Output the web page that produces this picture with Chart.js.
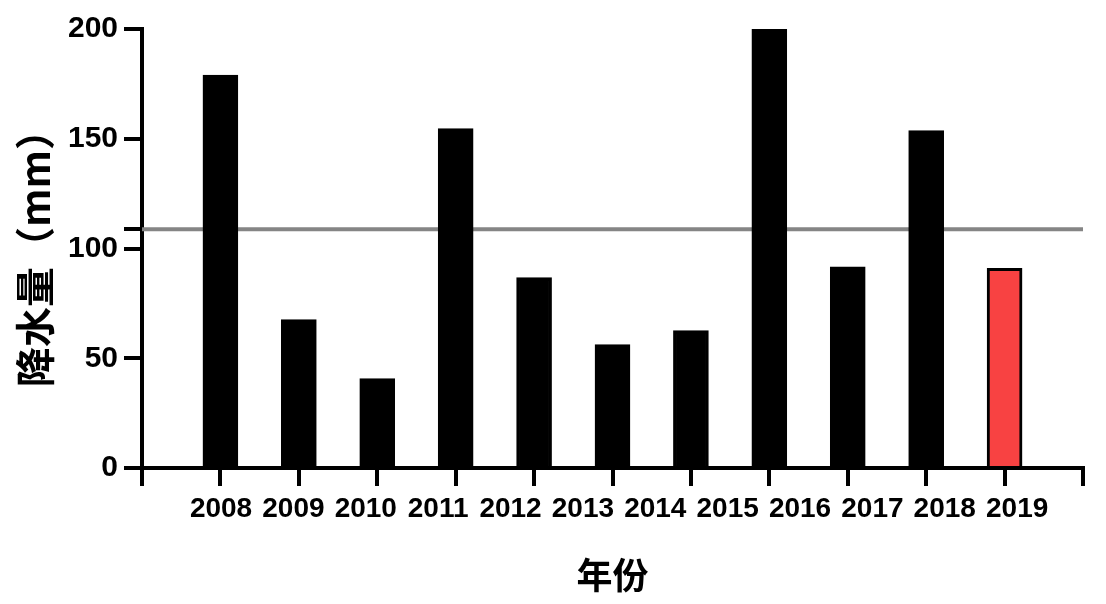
<!DOCTYPE html>
<html>
<head>
<meta charset="utf-8">
<script src="https://cdn.jsdelivr.net/npm/chart.js@4.4.1/dist/chart.umd.min.js"></script>
<style>
    html, body { margin: 0; padding: 0; background: #fff; }
    #wrap { width: 1106px; height: 604px; }
</style>
</head>
<body>
<div id="wrap"><canvas id="rainChart" width="1106" height="604"></canvas></div>
<script>
// Rainfall per year, bars sit on ticks 1..11 of the x axis
const yearLabels = ['2008', '2009', '2010', '2011', '2012', '2013', '2014', '2015', '2016', '2017', '2018', '2019'];
const barPositions = [1, 2, 3, 4, 5, 6, 7, 8, 9, 10, 11];
const rainfall = [179, 67.6, 40.7, 154.6, 86.7, 56.2, 62.6, 200, 91.7, 153.7, 91];
const meanRainfall = 108.8;
const yTickValues = [0, 50, 100, 150, 200];

const TICK_FONT = 'Liberation Sans, Arial, sans-serif';
const CJK_FONT = '"Noto Sans CJK SC", sans-serif';
const AXIS_W = 4;

const barColors = rainfall.map((v, i) => i === rainfall.length - 1 ? '#F84242' : '#000000');

const ctx = document.getElementById('rainChart');

new Chart(ctx, {
    type: 'bar',
    data: {
        datasets: [
            {
                type: 'bar',
                label: '降水量',
                data: barPositions.map((x, i) => ({ x: x, y: rainfall[i] })),
                backgroundColor: barColors,
                borderColor: '#000000',
                borderWidth: 3,
                barThickness: 35,
                grouped: false,
                xAxisID: 'x',
                order: 1
            },
            {
                type: 'line',
                label: '平均',
                data: [{ x: 0, y: meanRainfall }, { x: 12, y: meanRainfall }],
                borderColor: '#858585',
                borderWidth: 4,
                pointRadius: 0,
                fill: false,
                xAxisID: 'x',
                order: 2
            }
        ]
    },
    options: {
        responsive: false,
        animation: false,
        layout: {
            padding: { top: 29, right: 23, bottom: 0, left: 0 }
        },
        plugins: {
            legend: { display: false },
            tooltip: { enabled: false }
        },
        scales: {
            x: {
                type: 'linear',
                position: 'bottom',
                weight: 0,
                min: 0,
                max: 12,
                offset: false,
                afterBuildTicks: function (scale) {
                    scale.ticks = [0, 1, 2, 3, 4, 5, 6, 7, 8, 9, 10, 11, 12].map(v => ({ value: v }));
                },
                afterFit: function (scale) {
                    scale.height = 20;
                },
                ticks: { display: false, autoSkip: false },
                grid: {
                    offset: false,
                    drawOnChartArea: false,
                    drawTicks: true,
                    lineWidth: AXIS_W,
                    color: '#000000',
                    tickLength: 18,
                    tickWidth: AXIS_W,
                    tickColor: '#000000'
                },
                border: { display: true, color: '#000000', width: AXIS_W }
            },
            x2: {
                type: 'linear',
                position: 'bottom',
                weight: 1,
                min: -1.092,
                max: 11.91,
                offset: false,
                afterBuildTicks: function (scale) {
                    scale.ticks = yearLabels.map((y, i) => ({ value: i }));
                },
                afterFit: function (scale) {
                    scale.height = 116;
                },
                ticks: {
                    autoSkip: false,
                    maxRotation: 0,
                    padding: 4,
                    color: '#000000',
                    font: { family: TICK_FONT, size: 28, weight: 'bold' },
                    callback: function (value) {
                        return yearLabels[value];
                    }
                },
                grid: { display: false, drawTicks: false },
                border: { display: false },
                title: {
                    display: true,
                    text: '年份',
                    color: '#000000',
                    padding: { top: 0, bottom: 7 },
                    font: { family: CJK_FONT, size: 36, weight: 'bold' }
                }
            },
            y: {
                type: 'linear',
                min: 0,
                max: 200,
                afterBuildTicks: function (scale) {
                    scale.ticks = yTickValues.concat([meanRainfall]).sort((a, b) => a - b).map(v => ({ value: v }));
                },
                afterFit: function (scale) {
                    scale.width = 142;
                },
                ticks: {
                    autoSkip: false,
                    padding: 6,
                    color: '#000000',
                    font: { family: TICK_FONT, size: 30, weight: 'bold' },
                    callback: function (value) {
                        return yTickValues.includes(value) ? value : '';
                    }
                },
                grid: {
                    drawOnChartArea: false,
                    drawTicks: true,
                    lineWidth: AXIS_W,
                    color: '#000000',
                    tickLength: 18,
                    tickWidth: AXIS_W,
                    tickColor: '#000000'
                },
                border: { display: true, color: '#000000', width: AXIS_W },
                title: {
                    display: true,
                    text: '降水量（mm）',
                    color: '#000000',
                    padding: { top: 11, bottom: 0 },
                    font: { family: CJK_FONT, size: 40, weight: 'bold' }
                }
            }
        }
    }
});
</script>
</body>
</html>
